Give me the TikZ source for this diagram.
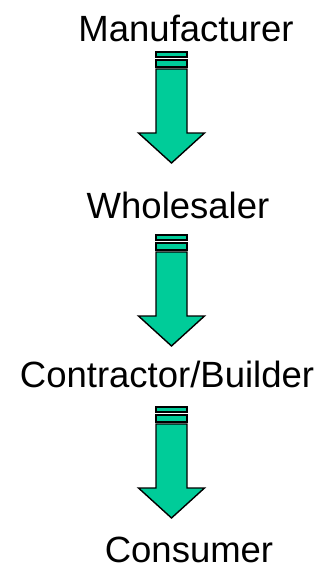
\documentclass[tikz,border=0pt]{standalone}
\usepackage{fontspec}
\setmainfont{Liberation Sans}
\usetikzlibrary{positioning}
\definecolor{arrowgreen}{RGB}{0,204,153}

\begin{document}
\begin{tikzpicture}[x=1pt,y=-1pt,
		stage/.style={anchor=base,inner sep=0pt,font=\fontsize{36.5}{40}\selectfont},
		band/.style={fill=arrowgreen,draw=black,line width=1.4pt,line join=miter},
		striped/.pic={
			\draw[band] (-15.5,0) rectangle (15.5,5);
			\draw[band] (-15.5,8) rectangle (15.5,15);
			\draw[band] (-15.5,17) -- (15.5,17) -- (15.5,81) -- (33,81) -- (0,111)
				-- (-33,81) -- (-15.5,81) -- cycle;
		}]
		\useasboundingbox (0,0) rectangle (323,568);
		\node[stage]  (manu)   at (186,41)  {Manufacturer};
		\node[stage]  (whole)  at (178,218) {Wholesaler};
		\node[stage]  (builder) at (167,387) {Contractor/Builder};
		\node[stage]  (consumer) at (189,562.5) {Consumer};
		
		\coordinate (a1) at (171.5,52);
		\coordinate (a2) at (171.5,235);
		\coordinate (a3) at (171.5,407);
		
		\pic at (a1) {striped};
		\pic at (a2) {striped};
		\pic at (a3) {striped};
\end{tikzpicture}
\end{document}
